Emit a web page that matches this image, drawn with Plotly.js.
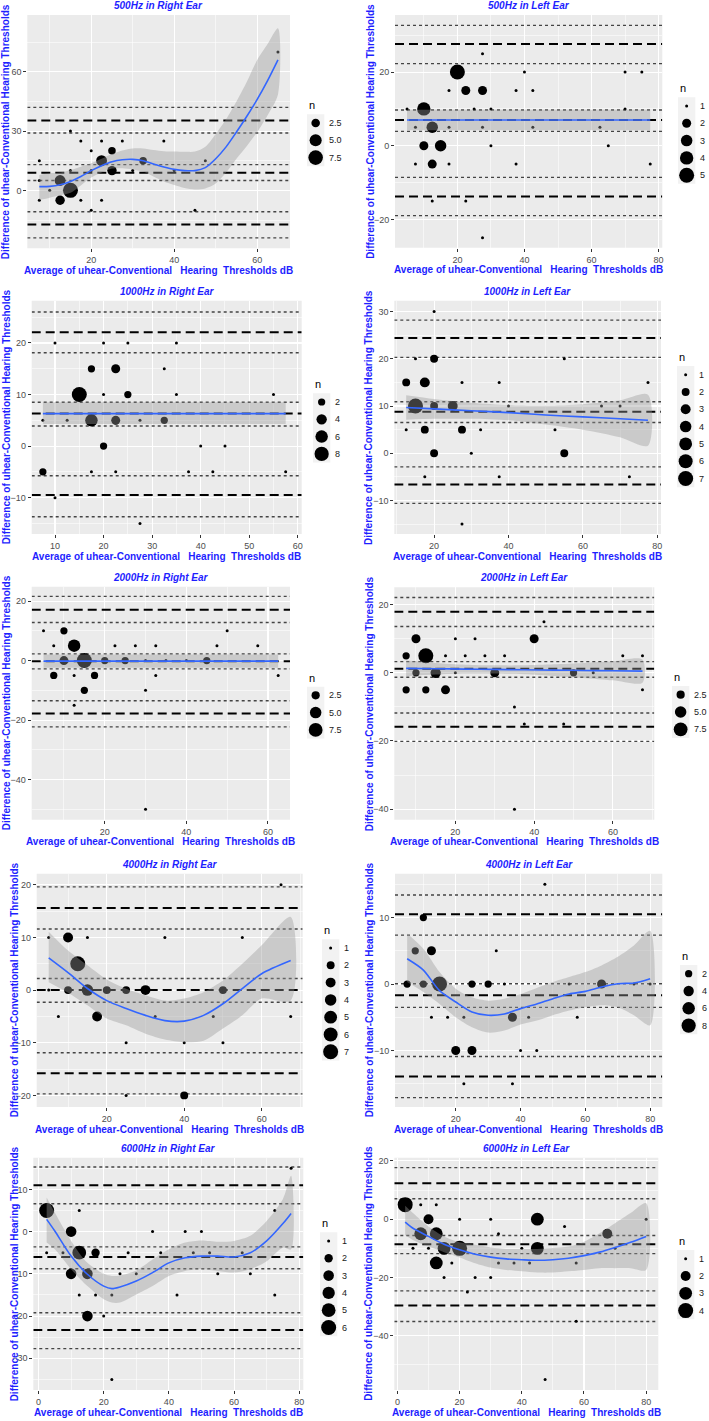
<!DOCTYPE html>
<html><head><meta charset="utf-8">
<script src="https://cdn.plot.ly/plotly-3.0.1.min.js"></script>
<style>html,body{margin:0;padding:0;background:#fff;} #chart{width:709px;height:1421px;}</style>
</head><body><div id="chart"></div>
<script>
// ---------- DATA ----------
// 500Hz Right
const r500_x = [7.5,7.5,7.5,10,12.5,12.5,15,15,15,17.5,17.5,20,20,20,22.5,22.5,22.5,25,25,27.5,30,32.5,37.5,40,45,47.5,65];
const r500_y = [15,5,-5,0,5,-5,0,30,10,25,-5,20,10,-10,15,25,-5,20,10,25,10,15,25,10,-10,15,70];
const r500_n = [1,1,1,1,4,3,8,1,1,1,1,1,1,1,4,1,1,2,3,1,1,2,1,1,1,1,1];
const r500_fx = [7.5,10,12.5,15,17.5,20,22.5,25,27.5,30,32.5,35,37.5,40,42.5,45,47.5,50,52.5,55,57.5,60,62.5,65];
const r500_fy = [1.9,2.0,2.8,4.5,7.0,10.0,12.5,14.5,15.5,15.7,15.0,13.3,11.8,10.6,10.0,10.0,11.5,16,22,29.5,37.5,46,55.5,66];
const r500_fhi = [7.8,8.6,9.0,10.3,12,13.7,16,18.4,20.2,21.2,21.2,20.4,19.8,19.6,19.5,19.6,22,28.5,36,45,55,66,74,82];
const r500_flo = [-4.9,-3.7,-2.5,-1.2,2.5,6.5,9.0,11.0,11.2,10.6,9.5,7.0,4.5,2.7,1.2,0.5,1.0,3.5,9,16,22.5,29.5,38,48.5];
const r500_dashed = [8.9,35.4,-17.3];
const r500_dotted = [5.0,13.0,29.0,42.0,-24.0,-10.8];
const r500_breaks = [2.5,5,7.5];
const r500_labels = ['2.5','5.0','7.5'];

// 500Hz Left
const l500_x = [5,7.5,7.5,10,10,12.5,12.5,12.5,15,17.5,17.5,17.5,20,22.5,22.5,25,27.5,27.5,27.5,27.5,30,30,37.5,37.5,40,42.5,42.5,62.5,65,70,70,75,77.5];
const l500_y = [10,5,-5,10,0,5,-5,-15,0,15,5,-5,20,15,-15,10,25,15,5,-25,10,0,15,-5,20,15,5,5,0,20,10,20,-5];
const l500_n = [1,1,1,4,2,3,2,1,3,1,1,1,5,2,1,1,1,2,1,1,1,1,1,1,1,1,1,1,1,1,1,1,1];
const l500_fx = [5,77.5];
const l500_fy = [7.0,7.0];
const l500_fhi = [9.8,9.8];
const l500_flo = [4.2,4.2];
const l500_dashed = [7.0,27.6,-13.8];
const l500_dotted = [3.9,9.7,22.3,32.7,-19.0,-8.6];
const l500_breaks = [1,2,3,4,5];
const l500_labels = ['1','2','3','4','5'];

// 1000Hz Right
const r1000_x = [7.5,7.5,10,10,12.5,15,17.5,17.5,17.5,20,20,20,22.5,22.5,22.5,25,25,27.5,27.5,32.5,32.5,35,35,37.5,40,42.5,45,55,57.5];
const r1000_y = [5,-5,20,-10,5,10,15,5,-5,20,10,0,15,5,-5,20,10,5,-15,15,5,20,10,-5,0,-5,0,10,-5];
const r1000_n = [1,2,1,1,1,9,2,6,1,1,1,2,3,3,1,1,2,1,1,1,2,1,1,1,1,1,1,1,1];
const r1000_fx = [7.5,57.5];
const r1000_fy = [6.3,6.3];
const r1000_fhi = [8.5,8.5];
const r1000_flo = [4.3,4.3];
const r1000_dashed = [6.3,22.1,-9.5];
const r1000_dotted = [3.9,8.5,18.1,26.0,-13.7,-5.75];
const r1000_breaks = [2,4,6,8];
const r1000_labels = ['2','4','6','8'];

// 1000Hz Left
const l1000_x = [12.5,12.5,15,15,17.5,17.5,17.5,20,20,20,20,25,27.5,27.5,27.5,30,32.5,37.5,37.5,40,52.5,55,55,65,70,72.5,77.5];
const l1000_y = [15,5,20,10,15,5,-5,30,20,10,0,10,15,5,-15,0,5,15,-5,10,5,20,0,10,10,-5,15];
const l1000_n = [2,1,1,7,3,2,1,1,2,2,2,3,1,2,1,1,1,1,1,1,1,1,2,1,1,1,1];
const l1000_fx = [12.5,20,30,40,50,60,70,77.5];
const l1000_fy = [9.7,9.4,9.0,8.6,8.1,7.7,7.3,7.0];
const l1000_fhi = [12.3,11.5,10.7,10.2,10.1,10.4,11.2,12.4];
const l1000_flo = [7.1,7.3,7.3,7.0,6.1,5.0,3.4,1.6];
const l1000_dashed = [8.8,24.4,-6.6];
const l1000_dotted = [6.5,10.9,20.3,28.2,-10.6,-2.9];
const l1000_breaks = [1,2,3,4,5,6,7];
const l1000_labels = ['1','2','3','4','5','6','7'];

// 2000Hz Right
const r2000_x = [5,7.5,7.5,10,10,12.5,12.5,12.5,15,15,17.5,20,22.5,25,27.5,30,30,30,32.5,32.5,35,40,45,47.5,50,57.5,62.5];
const r2000_y = [10,5,-5,10,0,5,-5,-15,0,-10,-5,0,5,0,5,0,-10,-50,5,-5,0,0,0,5,10,5,-5];
const r2000_n = [1,1,2,2,3,6,1,1,9,2,2,2,1,2,1,1,1,1,1,1,1,1,2,1,1,1,1];
const r2000_fx = [5,62.5];
const r2000_fy = [-0.2,-0.2];
const r2000_fhi = [2.0,2.0];
const r2000_flo = [-2.4,-2.4];
const r2000_dashed = [-0.2,17.1,-17.8];
const r2000_dotted = [-2.8,2.25,12.8,21.6,-22.3,-13.5];
const r2000_breaks = [2.5,5,7.5];
const r2000_labels = ['2.5','5.0','7.5'];

// 2000Hz Left
const l2000_x = [7.5,7.5,10,10,12.5,12.5,15,17.5,17.5,20,20,22.5,25,27.5,30,32.5,35,35,37.5,40,42.5,47.5,50,55,62.5,67.5,67.5];
const l2000_y = [5,-5,10,0,5,-5,0,5,-5,10,0,5,10,5,0,5,-10,-40,-15,10,15,-15,0,0,5,5,-5];
const l2000_n = [2,2,3,2,9,2,4,1,3,1,1,1,1,1,3,1,1,1,1,3,1,1,2,1,1,1,1];
const l2000_fx = [7.5,15,22.5,30,37.5,45,52.5,60,67.5];
const l2000_fy = [1.3,1.2,1.1,1.0,0.9,0.8,0.7,0.6,0.5];
const l2000_fhi = [3.6,2.9,2.4,2.2,2.2,2.5,2.9,3.4,3.9];
const l2000_flo = [-1.0,-0.5,-0.2,-0.2,-0.4,-0.9,-1.5,-2.2,-2.9];
const l2000_dashed = [1.2,17.9,-15.8];
const l2000_dotted = [-1.3,3.3,13.6,22.1,-20.1,-11.8];
const l2000_breaks = [2.5,5,7.5];
const l2000_labels = ['2.5','5.0','7.5'];

// 4000Hz Right
const r4000_x = [5,5,7.5,10,10,12.5,15,15,17.5,20,25,25,25,30,32.5,35,40,40,47.5,50,50,55,65,67.5];
const r4000_y = [10,0,-5,10,0,5,10,0,-5,0,0,-10,-20,0,-5,10,-10,-20,-5,0,-10,10,20,-5];
const r4000_n = [1,1,1,3,2,7,1,4,3,2,2,1,1,3,1,1,1,2,1,2,1,1,1,1];
const r4000_fx = [5,10,15,20,25,30,35,40,45,50,55,60,67.5];
const r4000_fy = [6.1,3.3,0.3,-2.0,-3.5,-4.8,-5.8,-5.9,-4.8,-2.6,0.3,3.1,5.6];
const r4000_fhi = [11.1,7.5,4.7,2.0,0.25,-1.0,-2.0,-1.6,-0.4,1.8,5.0,8.5,13.9];
const r4000_flo = [1.5,-0.5,-2.9,-5.4,-6.7,-8.3,-9.4,-9.9,-9.6,-7.3,-4.8,-1.6,-2.0];
const r4000_dashed = [0,15.6,-15.8];
const r4000_dotted = [-2.3,2.2,11.6,19.6,-19.7,-11.9];
const r4000_breaks = [1,2,3,4,5,6,7];
const r4000_labels = ['1','2','3','4','5','6','7'];

// 4000Hz Left
const l4000_x = [5,7.5,10,10,12.5,12.5,15,17.5,20,22.5,22.5,25,25,30,32.5,35,37.5,37.5,40,42.5,45,47.5,55,57.5,65,75,80];
const l4000_y = [0,5,10,0,5,-5,0,-5,-10,-5,-15,0,-10,0,5,0,-5,-15,-10,-5,-10,15,0,-5,0,0,0];
const l4000_n = [2,2,2,2,3,1,9,1,3,1,1,2,3,2,1,1,3,1,1,1,1,1,1,1,3,1,1];
const l4000_fx = [5,10,15,20,25,30,35,40,45,50,55,60,65,70,75,80];
const l4000_fy = [3.8,2.1,-1.0,-2.7,-4.2,-4.7,-4.5,-3.7,-3.0,-2.2,-1.5,-1.1,-0.45,0.05,0.15,0.8];
const l4000_fhi = [7.6,5.3,1.8,-0.7,-2.0,-2.5,-2.2,-1.5,-0.6,0.3,1.05,1.8,2.8,4.1,5.8,8.0];
const l4000_flo = [0.3,-1.2,-3.0,-5.0,-6.5,-7.3,-7.0,-6.1,-5.5,-4.7,-4.0,-3.5,-3.2,-3.5,-4.7,-6.2];
const l4000_dashed = [-1.7,10.5,-13.9];
const l4000_dotted = [-3.5,0.05,7.35,13.4,-17.1,-10.9];
const l4000_breaks = [2,4,6,8];
const l4000_labels = ['2','4','6','8'];

// 6000Hz Right
const r6000_x = [2.5,2.5,7.5,10,10,12.5,12.5,12.5,15,15,17.5,17.5,20,22.5,22.5,25,27.5,30,35,37.5,42.5,45,47.5,50,52.5,55,62.5,65,72.5,72.5,77.5];
const r6000_y = [5,-5,-5,0,-10,5,-5,-15,-10,-20,-5,-15,-20,-15,-35,-10,-5,-10,0,-5,-15,0,-5,0,-5,-10,-5,-10,5,-15,15];
const r6000_n = [6,1,1,3,3,1,5,1,3,3,2,1,1,1,1,1,1,1,1,1,1,1,1,1,1,1,1,1,1,1,1];
const r6000_fx = [2.5,5,10,15,20,22.5,25,30,35,40,45,50,55,60,65,70,75,77.5];
const r6000_fy = [2.9,0.15,-5.8,-10.1,-12.9,-13.5,-13.1,-11.7,-9.7,-7.4,-6.2,-5.8,-5.8,-6.0,-5.0,-2.2,1.9,4.3];
const r6000_fhi = [8.1,4.5,-2.2,-7.4,-10.0,-10.5,-10.4,-9.2,-6.6,-4.2,-2.6,-2.1,-2.4,-2.2,-1.0,2.5,7.7,13.2];
const r6000_flo = [-2.6,-4.2,-8.9,-12.9,-16.0,-16.8,-16.8,-14.9,-12.9,-10.5,-9.3,-8.9,-9.3,-9.7,-8.9,-7.0,-3.8,-4.2];
const r6000_dashed = [-6.0,11.0,-23.3];
const r6000_dotted = [-8.8,-3.6,6.6,15.3,-27.7,-19.2];
const r6000_breaks = [1,2,3,4,5,6];
const r6000_labels = ['1','2','3','4','5','6'];

// 6000Hz Left
const l6000_x = [2.5,5,7.5,7.5,10,10,12.5,12.5,12.5,15,15,17.5,20,20,22.5,25,30,30,32.5,32.5,37.5,40,42.5,45,45,47.5,53.75,57.5,57.5,67.5,70,80];
const l6000_y = [5,-10,5,-5,0,-10,5,-5,-15,-10,-20,-15,0,-10,-25,-20,0,-20,-5,-15,-15,-10,-15,0,-10,-55,-2.5,-15,-35,-5,-10,0];
const l6000_n = [4,1,1,3,2,1,1,3,3,3,1,1,1,4,1,1,1,1,1,1,1,1,1,3,3,1,1,1,1,2,1,1];
const l6000_fx = [2.5,5,10,15,20,25,30,35,40,45,50,55,60,65,70,75,80];
const l6000_fy = [-1.0,-3.1,-5.9,-8.6,-10.5,-12.0,-13.0,-13.6,-13.9,-14.1,-13.9,-13.4,-12.5,-11.3,-9.7,-7.9,-5.9];
const l6000_fhi = [4.6,2.1,-2.5,-5.9,-7.9,-8.8,-9.7,-10.2,-10.2,-10.2,-9.9,-9.4,-7.7,-4.8,-1.4,2.1,5.5];
const l6000_flo = [-5.4,-7.1,-9.4,-11.3,-13.1,-15.1,-16.6,-17.4,-17.9,-18.3,-18.3,-17.9,-17.4,-16.8,-16.8,-16.8,-17.4];
const l6000_dashed = [-8.6,12.3,-29.6];
const l6000_dotted = [-11.8,-5.6,7.0,17.7,-35.1,-24.6];
const l6000_breaks = [1,2,3,4];
const l6000_labels = ['1','2','3','4'];

const titles = ['500Hz in Right Ear','500Hz in Left Ear','1000Hz in Right Ear','1000Hz in Left Ear',
  '2000Hz in Right Ear','2000Hz in Left Ear','4000Hz in Right Ear','4000Hz in Left Ear',
  '6000Hz in Right Ear','6000Hz in Left Ear'];
const yTitle = 'Difference of uhear-Conventional Hearing Thresholds';
const xTitle = 'Average of uhear-Conventional\u00A0\u00A0 Hearing\u00A0 Thresholds dB';
const legendTitle = 'n';

// ---------- LAYOUT / STYLE ----------
const W = 709, H = 1421;
const FONT = 'Liberation Sans, Arial, Helvetica, sans-serif';
const BLUE = '#1E1EFF';
const KEY = 17.3;

const panels = [
 {x:r500_x,y:r500_y,n:r500_n,fx:r500_fx,fy:r500_fy,fhi:r500_fhi,flo:r500_flo,dashed:r500_dashed,dotted:r500_dotted,breaks:r500_breaks,labels:r500_labels,
  box:[27.3,290,15,248.3], xr:[4.6,67.9], yr:[-29.3,88.7], dx:20, dy:30, ytx:5.5, leg:[307,123]},
 {x:l500_x,y:l500_y,n:l500_n,fx:l500_fx,fy:l500_fy,fhi:l500_fhi,flo:l500_flo,dashed:l500_dashed,dotted:l500_dotted,breaks:l500_breaks,labels:l500_labels,
  box:[395,662.3,15,247.7], xr:[1.4,81.1], yr:[-27.7,35.5], dx:20, dy:20, ytx:370.5, leg:[678,106]},
 {x:r1000_x,y:r1000_y,n:r1000_n,fx:r1000_fx,fy:r1000_fy,fhi:r1000_fhi,flo:r1000_flo,dashed:r1000_dashed,dotted:r1000_dotted,breaks:r1000_breaks,labels:r1000_labels,
  box:[31.7,301.7,300.7,534], xr:[5.2,60.8], yr:[-17.05,28.2], dx:10, dy:10, ytx:6, leg:[313,402]},
 {x:l1000_x,y:l1000_y,n:l1000_n,fx:l1000_fx,fy:l1000_fy,fhi:l1000_fhi,flo:l1000_flo,dashed:l1000_dashed,dotted:l1000_dotted,breaks:l1000_breaks,labels:l1000_labels,
  box:[394.3,661,300.7,534], xr:[9.3,81.0], yr:[-17.1,32.3], dx:20, dy:10, ytx:368.7, leg:[677,374.7]},
 {x:r2000_x,y:r2000_y,n:r2000_n,fx:r2000_fx,fy:r2000_fy,fhi:r2000_fhi,flo:r2000_flo,dashed:r2000_dashed,dotted:r2000_dotted,breaks:r2000_breaks,labels:r2000_labels,
  box:[31.7,290,586.8,819.7], xr:[2.1,65.4], yr:[-53.5,24.8], dx:20, dy:20, ytx:6, leg:[307,695.3]},
 {x:l2000_x,y:l2000_y,n:l2000_n,fx:l2000_fx,fy:l2000_fy,fhi:l2000_fhi,flo:l2000_flo,dashed:l2000_dashed,dotted:l2000_dotted,breaks:l2000_breaks,labels:l2000_labels,
  box:[394.3,654.3,587.3,819.7], xr:[4.5,70.5], yr:[-43.1,25.1], dx:20, dy:20, ytx:369.8, leg:[672,694.7]},
 {x:r4000_x,y:r4000_y,n:r4000_n,fx:r4000_fx,fy:r4000_fy,fhi:r4000_fhi,flo:r4000_flo,dashed:r4000_dashed,dotted:r4000_dotted,breaks:r4000_breaks,labels:r4000_labels,
  box:[36.7,302.7,873.7,1107], xr:[1.9,70.6], yr:[-22.2,22.1], dx:20, dy:10, ytx:14, leg:[322,948]},
 {x:l4000_x,y:l4000_y,n:l4000_n,fx:l4000_fx,fy:l4000_fy,fhi:l4000_fhi,flo:l4000_flo,dashed:l4000_dashed,dotted:l4000_dotted,breaks:l4000_breaks,labels:l4000_labels,
  box:[395,662.3,873.7,1107], xr:[1.25,83.75], yr:[-18.5,16.6], dx:20, dy:10, ytx:369, leg:[680,973.7]},
 {x:r6000_x,y:r6000_y,n:r6000_n,fx:r6000_fx,fy:r6000_fy,fhi:r6000_fhi,flo:r6000_flo,dashed:r6000_dashed,dotted:r6000_dotted,breaks:r6000_breaks,labels:r6000_labels,
  box:[33.3,303.3,1157.7,1390], xr:[-1.6,81.25], yr:[-37.5,17.5], dx:20, dy:10, ytx:14.5, leg:[320,1241]},
 {x:l6000_x,y:l6000_y,n:l6000_n,fx:l6000_fx,fy:l6000_fy,fhi:l6000_fhi,flo:l6000_flo,dashed:l6000_dashed,dotted:l6000_dotted,breaks:l6000_breaks,labels:l6000_labels,
  box:[394.3,658.3,1157.7,1390], xr:[-1.0,83.9], yr:[-58.6,21.1], dx:20, dy:20, ytx:369, leg:[677,1258.7]}
];

const data = [], shapes = [], annotations = [];
const layout = {
  width: W, height: H, autosize: false, showlegend: false,
  margin: {l:0, r:0, t:0, b:0, pad:0},
  paper_bgcolor: '#FFFFFF', plot_bgcolor: 'rgba(0,0,0,0)',
  font: {family: FONT, size: 9, color: '#4D4D4D'},
  hovermode: false
};

function axisCommon(dt) {
  return {
    tickmode: 'linear', tick0: 0, dtick: dt,
    ticks: 'outside', ticklen: 3, tickwidth: 1, tickcolor: '#333333',
    tickfont: {family: FONT, size: 9, color: '#4D4D4D'},
    showgrid: true, gridcolor: '#FFFFFF', gridwidth: 1.1,
    minor: {tick0: 0, dtick: dt/2, showgrid: true, gridcolor: '#FFFFFF', gridwidth: 0.55, ticks: ''},
    zeroline: false, showline: false, fixedrange: true
  };
}

// horizontal reference lines spanning the whole x range of the panel
function hlineTrace(vals, xr, xa, ya, style) {
  const xs = [], ys = [];
  vals.forEach(v => { xs.push(xr[0], xr[1], null); ys.push(v, v, null); });
  return {type:'scatter', mode:'lines', x:xs, y:ys, xaxis:xa, yaxis:ya, line:style, hoverinfo:'skip', connectgaps:false};
}

panels.forEach((p, i) => {
  const k = i + 1;
  const xa = k === 1 ? 'x' : 'x' + k, ya = k === 1 ? 'y' : 'y' + k;
  const xn = k === 1 ? 'xaxis' : 'xaxis' + k, yn = k === 1 ? 'yaxis' : 'yaxis' + k;
  const [L, R, T, B] = p.box;
  layout[xn] = Object.assign(axisCommon(p.dx), {domain: [L/W, R/W], range: p.xr, anchor: ya});
  layout[yn] = Object.assign(axisCommon(p.dy), {domain: [1 - B/H, 1 - T/H], range: p.yr, anchor: xa});

  // panel background
  shapes.push({type:'rect', xref: xa + ' domain', yref: ya + ' domain', x0:0, x1:1, y0:0, y1:1,
    fillcolor:'#EBEBEB', line:{width:0}, layer:'below'});

  // reference lines (drawn above the grid, below the points)
  data.push(hlineTrace(p.dotted, p.xr, xa, ya, {color:'#444444', width:1.35, dash:'3px,3px'}));
  data.push(hlineTrace(p.dashed, p.xr, xa, ya, {color:'#000000', width:2, dash:'9px,5px'}));

  const M = Math.max(...p.n);
  const sz = n => 3 + 12 * Math.sqrt(Math.max(0, n - 1) / (M - 1));

  // points
  data.push({type:'scatter', mode:'markers', x:p.x, y:p.y, xaxis:xa, yaxis:ya,
    marker:{color:'#000000', opacity:1, size:p.n.map(sz), line:{width:0}}, hoverinfo:'skip'});
  // confidence ribbon
  const rx = p.fx.concat(p.fx.slice().reverse());
  const ry = p.fhi.concat(p.flo.slice().reverse());
  data.push({type:'scatter', mode:'lines', x:rx, y:ry, xaxis:xa, yaxis:ya, fill:'toself',
    fillcolor:'rgba(153,153,153,0.4)', line:{width:0, shape: p.fx.length > 2 ? 'spline' : 'linear', smoothing:0.8}, hoverinfo:'skip'});
  // fitted line
  data.push({type:'scatter', mode:'lines', x:p.fx, y:p.fy, xaxis:xa, yaxis:ya,
    line:{color:'#3366FF', width:1.6, shape: p.fx.length > 2 ? 'spline' : 'linear', smoothing:0.8}, hoverinfo:'skip'});

  // titles
  annotations.push({xref: xa + ' domain', yref: ya + ' domain', x:0.5, y:1, xanchor:'center', yanchor:'middle',
    yshift: 9.5, showarrow:false, text: titles[i],
    font:{family:FONT, size:10, color:BLUE, weight:'bold', style:'italic'}});
  annotations.push({xref: xa + ' domain', yref: ya + ' domain', x:0.5, y:0, xanchor:'center', yanchor:'middle',
    yshift: -22, showarrow:false, text: xTitle,
    font:{family:FONT, size:10, color:BLUE, weight:'bold'}});
  annotations.push({xref:'paper', yref:'paper', x: p.ytx / W, y: 1 - ((T + B) / 2) / H,
    xanchor:'center', yanchor:'middle', textangle:-90, showarrow:false, text: yTitle,
    font:{family:FONT, size:10, color:BLUE, weight:'bold'}});

  // size legend (drawn on its own small axes)
  const lk = k + 10;
  const lxa = 'x' + lk, lya = 'y' + lk;
  const m = p.breaks.length;
  const [bl, ky] = p.leg;
  layout['xaxis' + lk] = {domain:[bl/W, (bl + KEY)/W], range:[0, 1], visible:false, fixedrange:true, anchor:lya};
  layout['yaxis' + lk] = {domain:[1 - (ky + (m - 0.5) * KEY)/H, 1 - (ky - 0.5 * KEY)/H],
    range:[m - 0.5, -0.5], visible:false, fixedrange:true, anchor:lxa};
  shapes.push({type:'rect', xref: lxa + ' domain', yref: lya + ' domain', x0:0, x1:1, y0:0, y1:1,
    fillcolor:'#F2F2F2', line:{width:0}, layer:'below'});
  data.push({type:'scatter', mode:'markers', x:p.breaks.map(() => 0.5), y:p.breaks.map((_, j) => j),
    xaxis:lxa, yaxis:lya, marker:{color:'#000000', opacity:1, size:p.breaks.map(sz), line:{width:0}},
    cliponaxis:false, hoverinfo:'skip'});
  p.labels.forEach((lab, j) => annotations.push({xref:lxa, yref:lya, x:1, y:j, xanchor:'left', yanchor:'middle',
    xshift:3, showarrow:false, text:lab, font:{family:FONT, size:9, color:'#1A1A1A'}}));
  annotations.push({xref: lxa + ' domain', yref: lya + ' domain', x:0, y:1, xanchor:'left', yanchor:'middle',
    yshift:9, showarrow:false, text:legendTitle, font:{family:FONT, size:11, color:'#000000'}});
});

layout.shapes = shapes;
layout.annotations = annotations;

Plotly.newPlot('chart', data, layout, {staticPlot:true, displayModeBar:false, responsive:false});
</script>
</body></html>
